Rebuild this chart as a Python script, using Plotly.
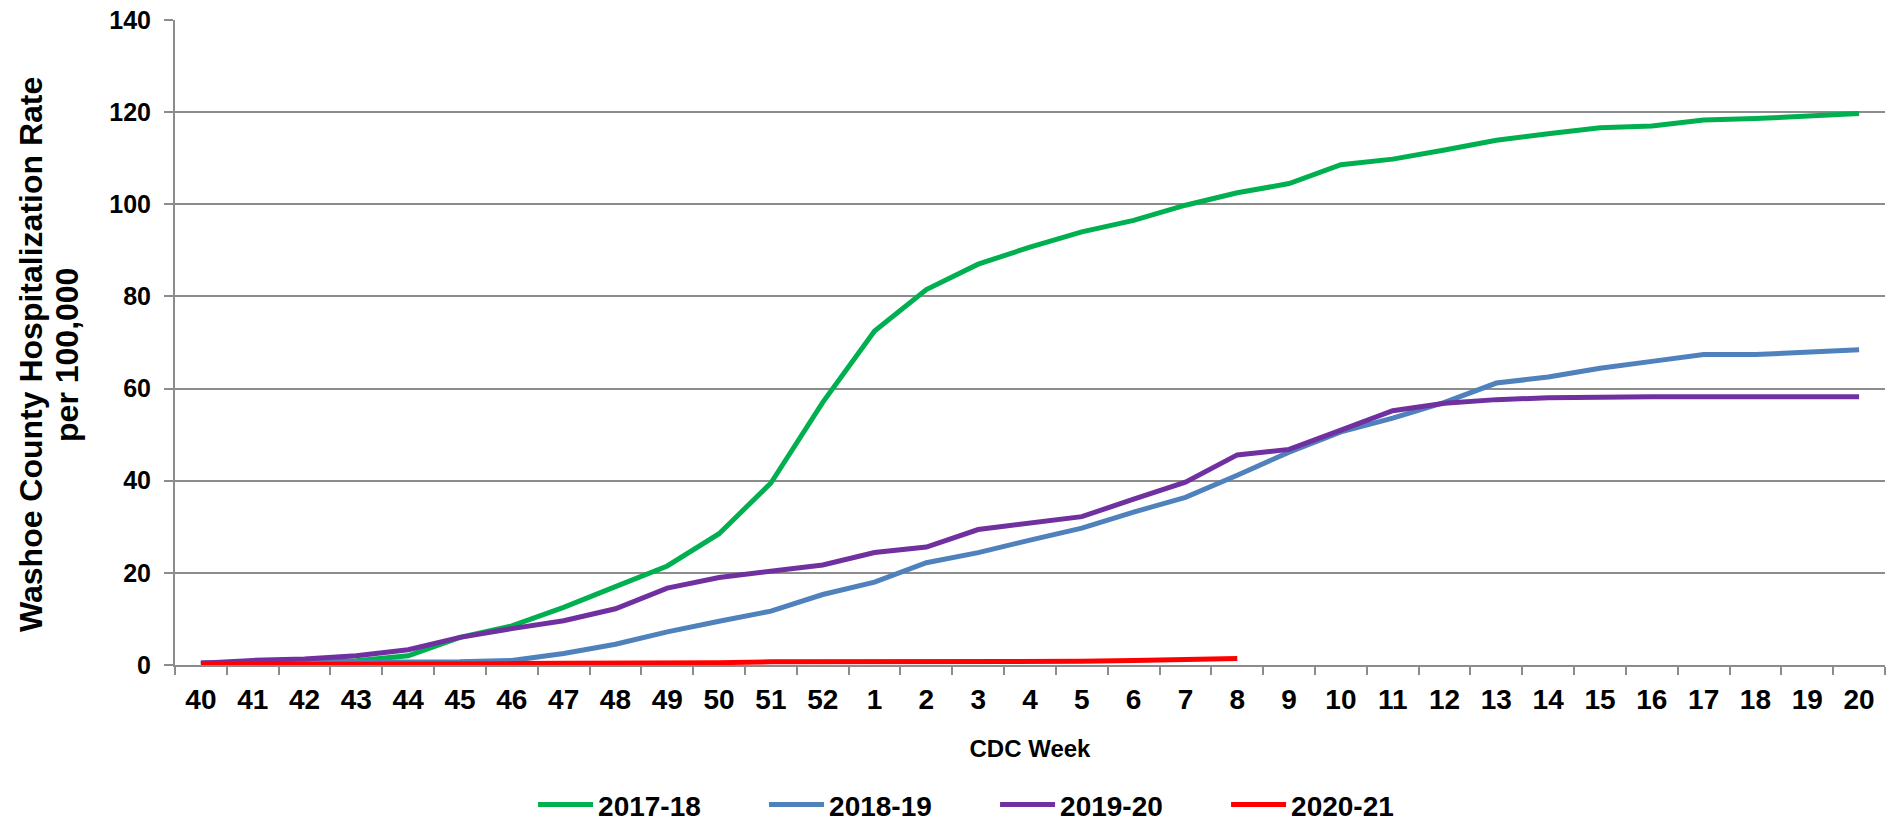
import plotly.graph_objects as go

# CDC weeks, season runs week 40 through week 20
weeks = [str(w) for w in list(range(40, 53)) + list(range(1, 21))]

rate_2017_18 = [0.3, 0.5, 0.7, 0.9, 2.0, 6.0, 8.5, 12.5, 17.0, 21.5, 28.5, 39.5, 57.0,
                72.5, 81.5, 87.0, 90.7, 94.0, 96.5, 99.8, 102.5, 104.5, 108.6, 109.8,
                111.8, 113.9, 115.3, 116.6, 117.0, 118.3, 118.6, 119.1, 119.7]
rate_2018_19 = [0.5, 0.5, 0.5, 0.5, 0.5, 0.7, 1.0, 2.5, 4.5, 7.2, 9.5, 11.7, 15.3,
                18.0, 22.2, 24.4, 27.1, 29.7, 33.2, 36.4, 41.2, 46.2, 50.6, 53.6,
                57.0, 61.2, 62.5, 64.4, 65.9, 67.4, 67.4, 68.0, 68.4]
rate_2019_20 = [0.4, 1.0, 1.3, 2.0, 3.3, 6.0, 7.9, 9.6, 12.2, 16.7, 19.0, 20.4, 21.7,
                24.4, 25.6, 29.4, 30.7, 32.2, 36.0, 39.7, 45.6, 46.8, 51.0, 55.2,
                56.8, 57.6, 58.0, 58.2, 58.2, 58.2, 58.2, 58.2, 58.2]
rate_2020_21 = [0.1, 0.1, 0.1, 0.1, 0.1, 0.2, 0.3, 0.4, 0.4, 0.5, 0.5, 0.7, 0.7,
                0.8, 0.8, 0.8, 0.8, 0.8, 1.0, 1.1, 1.4]

seasons = ["2017-18", "2018-19", "2019-20", "2020-21"]
colors = ["#00B050", "#4F81BD", "#7030A0", "#FF0000"]
all_rates = [rate_2017_18, rate_2018_19, rate_2019_20, rate_2020_21]

y_title = ["Washoe County Hospitalization Rate", "per 100,000"]

fig = go.Figure()
for name, col, vals in zip(seasons, colors, all_rates):
    fig.add_trace(go.Scatter(x=weeks[:len(vals)], y=vals, name=name, mode="lines",
                             line=dict(color=col, width=5)))

grid = "#8C8C8C"
fig.update_layout(
    width=1886, height=823,
    margin=dict(l=175, r=1, t=20, b=158),
    plot_bgcolor="white", paper_bgcolor="white",
    font=dict(family="Arial", color="black"),
    legend=dict(orientation="h", xref="container", yref="container",
                x=0.5276, xanchor="center", y=0.022, yanchor="middle",
                itemwidth=55, entrywidth=161,
                font=dict(size=28, weight="bold")),
    xaxis=dict(type="category", categoryorder="array", categoryarray=weeks,
               range=[-0.5, 32.5], showgrid=False, tickson="boundaries",
               ticks="outside", ticklen=8, tickcolor=grid, tickwidth=2,
               showline=True, linecolor=grid, linewidth=2,
               tickfont=dict(size=28, weight="bold"), ticklabelstandoff=8,
               title=dict(text="CDC Week", font=dict(size=24, weight="bold"), standoff=27)),
    yaxis=dict(range=[0, 140], dtick=20, showgrid=True, gridcolor=grid, gridwidth=2,
               zeroline=False, showline=True, linecolor=grid, linewidth=2,
               ticks="outside", ticklen=9, tickcolor=grid, tickwidth=2,
               tickfont=dict(size=25, weight="bold"), ticklabelstandoff=8),
)

# y title as two rotated lines, spaced tighter than plotly's <br> line height
for txt, xpos in zip(y_title, [-0.0842, -0.0632]):
    fig.add_annotation(text=txt, xref="paper", yref="paper", x=xpos, y=0.4806,
                       xanchor="center", yanchor="middle", textangle=-90,
                       showarrow=False, font=dict(size=32, weight="bold"))

# page body has a default 8px margin; drop it so the figure sits at the window corner
fig.write_html("out.html", config={"displayModeBar": False},
               post_script="document.body.style.margin='0';")
